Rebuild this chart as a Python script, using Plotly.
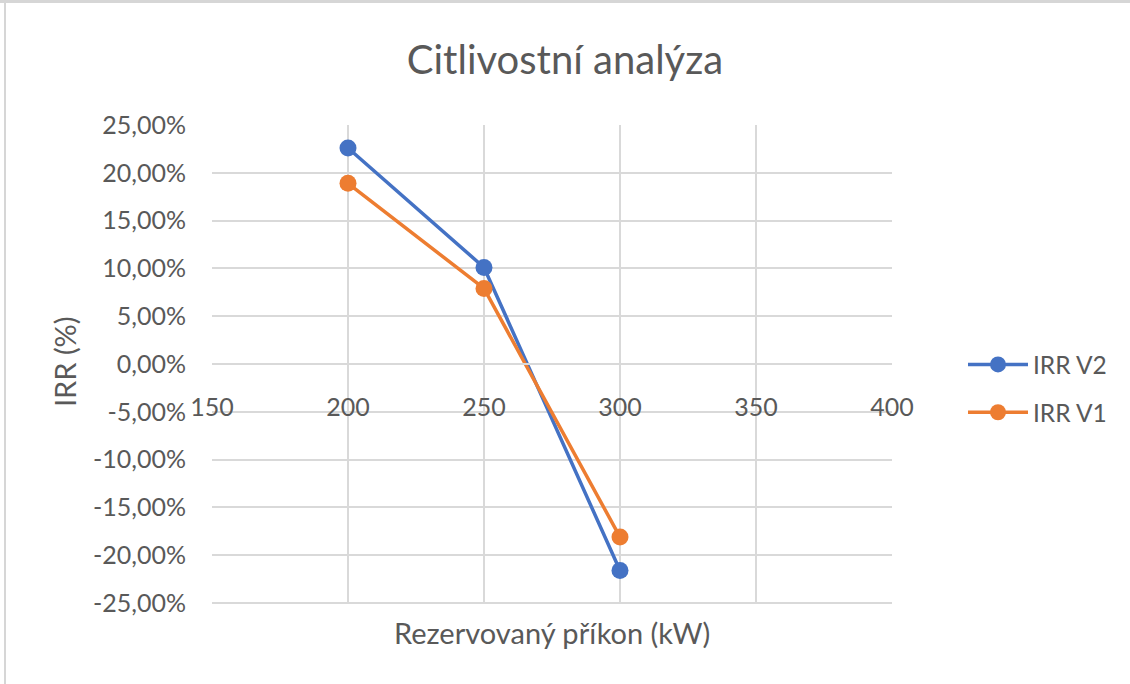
import plotly.graph_objects as go

x_kw = [200, 250, 300]
irr_v2 = [0.226, 0.101, -0.216]
irr_v1 = [0.189, 0.079, -0.181]

y_tickvals = [0.25, 0.20, 0.15, 0.10, 0.05, 0.0, -0.05, -0.10, -0.15, -0.20, -0.25]
y_ticktext = ["25,00%", "20,00%", "15,00%", "10,00%", "5,00%", "0,00%",
              "-5,00%", "-10,00%", "-15,00%", "-20,00%", "-25,00%"]
x_tickvals = [150, 200, 250, 300, 350, 400]
x_ticktext = ["150", "200", "250", "300", "350", "400"]

FONT = "Lato"
GRAY = "#595959"
GRID = "#d9d9d9"

W, H = 1130, 684
L, R, T, B = 212, 238, 125, 81
pw, ph = W - L - R, H - T - B

def px_x(p):
    return (p - L) / pw

def px_y(p):
    return 1 - (p - T) / ph

fig = go.Figure()
fig.add_trace(go.Scatter(x=x_kw, y=irr_v2, name="IRR V2", mode="lines+markers",
                         line=dict(color="#4472C4", width=3.5),
                         marker=dict(size=17, color="#4472C4"),
                         legendgroup="v2"))
fig.add_trace(go.Scatter(x=x_kw, y=irr_v1, name="IRR V1", mode="lines+markers",
                         line=dict(color="#ED7D31", width=3.5),
                         marker=dict(size=17, color="#ED7D31"),
                         legendgroup="v1"))

ymin, ymax = -0.25, 0.25
zero_pos = (0 - ymin) / (ymax - ymin)

fig.update_layout(
    width=W, height=H,
    margin=dict(l=L, r=R, t=T, b=B),
    paper_bgcolor="white", plot_bgcolor="white",
    font=dict(family=FONT, color=GRAY, size=25),
    title=dict(text="Citlivostní analýza", x=0.5, xanchor="center",
               y=1 - 60 / H, yanchor="middle",
               font=dict(family=FONT, size=40, color=GRAY)),
    showlegend=True,
    legend=dict(x=px_x(963), y=px_y(342), xanchor="left", yanchor="top",
                font=dict(size=24.5, color=GRAY), tracegroupgap=13,
                bgcolor="rgba(0,0,0,0)", itemwidth=60),
    xaxis=dict(range=[150, 400], tickvals=x_tickvals, ticktext=x_ticktext,
               showgrid=True, gridcolor=GRID, gridwidth=2,
               zeroline=False, showline=True, linecolor=GRID, linewidth=2,
               anchor="free", position=zero_pos,
               ticks="", ticklabelstandoff=21,
               tickfont=dict(size=25, color=GRAY)),
    yaxis=dict(range=[ymin, ymax], tickvals=y_tickvals, ticktext=y_ticktext,
               showgrid=True, gridcolor=GRID, gridwidth=2,
               zeroline=False, showline=False,
               ticks="", ticklabelstandoff=25,
               tickfont=dict(size=25, color=GRAY)),
    annotations=[
        dict(text="Rezervovaný příkon (kW)", xref="paper", yref="paper",
             x=0.5, y=px_y(632), xanchor="center", yanchor="middle",
             showarrow=False, font=dict(size=29, color=GRAY)),
        dict(text="IRR (%)", xref="paper", yref="paper",
             x=px_x(64), y=px_y(362), xanchor="center", yanchor="middle",
             textangle=-90, showarrow=False, font=dict(size=29, color=GRAY)),
    ],
    shapes=[
        dict(type="line", xref="paper", yref="paper",
             x0=px_x(5), x1=px_x(5), y0=px_y(0), y1=px_y(684),
             line=dict(color="#d6d6d6", width=2)),
        dict(type="line", xref="paper", yref="paper",
             x0=px_x(0), x1=px_x(1130), y0=px_y(1.5), y1=px_y(1.5),
             line=dict(color="#d6d6d6", width=3)),
        dict(type="line", xref="paper", yref="paper",
             x0=0, x1=1, y0=0, y1=0, layer="below",
             line=dict(color=GRID, width=2)),
    ],
)

fig.write_html("out.html", config={"displayModeBar": False},
               post_script="document.body.style.margin='0';")
